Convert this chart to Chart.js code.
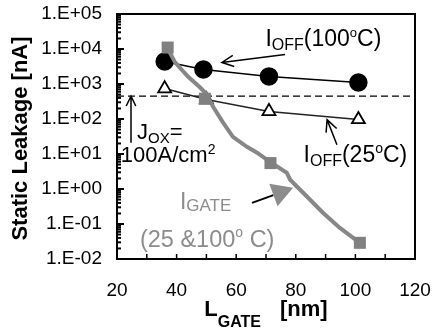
<!DOCTYPE html>
<html>
<head>
<meta charset="utf-8">
<script src="https://cdn.jsdelivr.net/npm/chart.js@4.4.1/dist/chart.umd.min.js"></script>
<style>
  html, body { margin: 0; padding: 0; background: #fff; }
</style>
</head>
<body>
<canvas id="chart" width="433" height="333"></canvas>
<script>
// gate length [nm] and static leakage [nA]
const ioff100Len = [36, 49, 71, 101];
const ioff100 = [4400, 2600, 1650, 1100];
const ioff25Len = [36, 50, 71, 101];
const ioff25 = [740, 360, 165, 97];
const igateLen = [37, 49.5, 71.5, 101.5];
const igate = [11000, 380, 5.5, 0.029];
// measured gate current curve (25 & 100 C)
const igateCurveLen = [36.8, 39.5, 43.8, 47.9, 50.2, 52.2, 55.6, 58.9, 63.6, 67.0, 71.3, 77.0, 78.1, 83.8, 89.1, 94.8, 101.5];
const igateCurve = [11100, 4130, 1640, 794, 500, 226, 79, 31, 16, 10.9, 6.0, 2.9, 1.84, 0.60, 0.21, 0.077, 0.029];
// Jox = 100 A/cm2 limit
const joxLen = [20, 120];
const joxLimit = [450, 450];

const xTicks = [20, 40, 60, 80, 100, 120];
const yTicks = [1e-2, 1e-1, 1e0, 1e1, 1e2, 1e3, 1e4, 1e5];

const FONT = '"Liberation Sans", Arial, sans-serif';
const GREY = '#878787';
const TEXT_GREY = '#8c8c8c';

function pts(xs, ys) {
    return xs.map((x, i) => ({ x: x, y: ys[i] }));
}

function sciLabel(v) {
    const e = Math.round(Math.log10(v));
    const s = e < 0 ? '-' : '+';
    return '1.E' + s + String(Math.abs(e)).padStart(2, '0');
}

// text with sub/superscripts: parts = [text, size, dy, bold, gapAfter]
function rich(ctx, x, y, parts, color) {
    let cx = x;
    ctx.fillStyle = color || '#000';
    ctx.textBaseline = 'alphabetic';
    ctx.textAlign = 'left';
    parts.forEach(p => {
        ctx.font = (p[3] ? 'bold ' : '') + p[1] + 'px ' + FONT;
        ctx.fillText(p[0], cx, y + (p[2] || 0));
        cx += ctx.measureText(p[0]).width + (p[4] || 0);
    });
    return cx - x;
}

function richWidth(ctx, parts) {
    let w = 0;
    parts.forEach(p => {
        ctx.font = (p[3] ? 'bold ' : '') + p[1] + 'px ' + FONT;
        w += ctx.measureText(p[0]).width + (p[4] || 0);
    });
    return w;
}

function openArrow(ctx, x1, y1, x2, y2, head) {
    const a = Math.atan2(y2 - y1, x2 - x1);
    ctx.beginPath();
    ctx.moveTo(x1, y1);
    ctx.lineTo(x2, y2);
    ctx.moveTo(x2 - head * Math.cos(a - 0.45), y2 - head * Math.sin(a - 0.45));
    ctx.lineTo(x2, y2);
    ctx.lineTo(x2 - head * Math.cos(a + 0.45), y2 - head * Math.sin(a + 0.45));
    ctx.stroke();
}

function filledArrow(ctx, x1, y1, x2, y2, len, half) {
    const a = Math.atan2(y2 - y1, x2 - x1);
    const bx = x2 - len * Math.cos(a), by = y2 - len * Math.sin(a);
    ctx.beginPath();
    ctx.moveTo(x1, y1);
    ctx.lineTo(bx, by);
    ctx.stroke();
    ctx.beginPath();
    ctx.moveTo(x2, y2);
    ctx.lineTo(bx + half * Math.sin(a), by - half * Math.cos(a));
    ctx.lineTo(bx - half * Math.sin(a), by + half * Math.cos(a));
    ctx.closePath();
    ctx.fill();
}

const framePlugin = {
    id: 'frame',
    afterDraw(chart) {
        const { ctx, chartArea: a, scales: { x, y } } = chart;
        const P = (vx, vy) => [x.getPixelForValue(vx), y.getPixelForValue(vy)];
        ctx.save();

        // frame
        ctx.strokeStyle = '#000';
        ctx.lineWidth = 2;
        ctx.strokeRect(a.left, a.top, a.right - a.left, a.bottom - a.top);

        // inward ticks on the log axis
        for (let e = -2; e <= 5; e++) {
            for (let m = 1; m < 10; m++) {
                const v = m * Math.pow(10, e);
                if (v > 1e5) break;
                const py = y.getPixelForValue(v);
                ctx.beginPath();
                ctx.moveTo(a.left, py);
                ctx.lineTo(a.left + (m === 1 ? 7 : 4), py);
                ctx.stroke();
            }
        }
        // inward ticks on the x axis
        ctx.lineWidth = 1.5;
        for (let v = 30; v < 120; v += 10) {
            const px = x.getPixelForValue(v);
            ctx.beginPath();
            ctx.moveTo(px, a.bottom);
            ctx.lineTo(px, a.bottom - 5);
            ctx.stroke();
        }

        // annotations
        ctx.lineWidth = 1.5;
        ctx.strokeStyle = '#000';
        ctx.fillStyle = '#000';

        let p = P(69.8, 11900);
        rich(ctx, p[0], p[1], [['I', 23], ['OFF', 16, 4], ['(100', 23], ['o', 13, -9], ['C)', 23]]);
        let p1 = P(76.4, 7000), p2 = P(55.2, 4130);
        openArrow(ctx, p1[0], p1[1], p2[0], p2[1], 13);

        p = P(82.6, 6.0);
        rich(ctx, p[0], p[1], [['I', 23], ['OFF', 16, 4], ['(25', 23], ['o', 14, -9], ['C)', 23]]);
        p1 = P(93.8, 18.4); p2 = P(90.5, 96);
        openArrow(ctx, p1[0], p1[1], p2[0], p2[1], 13);

        p1 = P(24.7, 21); p2 = P(24.7, joxLimit[0]);
        openArrow(ctx, p1[0], p1[1], p2[0], p2[1], 11);
        p = P(26.7, 27.4);
        rich(ctx, p[0], p[1], [['J', 22], ['OX', 15, 4], ['=', 22]]);
        p = P(21.3, 6.0);
        rich(ctx, p[0], p[1], [['100A/cm', 22], ['2', 14, -8]]);

        p = P(41.1, 0.26);
        rich(ctx, p[0], p[1], [['I', 23], ['GATE', 17, 2]], TEXT_GREY);
        p = P(27.7, 0.0221);
        rich(ctx, p[0], p[1], [['(25 &100', 23.5], ['o', 14, -10], [' C)', 23.5]], TEXT_GREY);
        p1 = P(65.3, 0.40); p2 = P(79.1, 1.08);
        ctx.lineWidth = 2;
        filledArrow(ctx, p1[0], p1[1], p2[0], p2[1], 21, 12);

        // axis titles
        const xt = [['L', 22, 0, true], ['GATE', 16, 11, true, 19], ['[nm]', 22, 0, true]];
        const w = richWidth(ctx, xt);
        rich(ctx, (a.left + a.right) / 2 - w / 2, 316, xt);

        ctx.translate(21, (a.top + a.bottom) / 2 + 2);
        ctx.rotate(-Math.PI / 2);
        ctx.font = 'bold 22px ' + FONT;
        ctx.textAlign = 'center';
        ctx.textBaseline = 'middle';
        ctx.fillText('Static Leakage [nA]', 0, 0);
        ctx.restore();
    }
};

new Chart(document.getElementById('chart'), {
    type: 'scatter',
    data: {
        datasets: [{
            label: 'IGATE points',
            data: pts(igateLen, igate),
            showLine: false,
            pointStyle: 'rect',
            pointRadius: 8.5,
            pointBackgroundColor: '#808080',
            pointBorderColor: '#808080',
            pointBorderWidth: 0
        }, {
            label: 'IGATE',
            data: pts(igateCurveLen, igateCurve),
            showLine: true,
            borderColor: GREY,
            borderWidth: 4,
            pointRadius: 0
        }, {
            label: 'IOFF(100C)',
            data: pts(ioff100Len, ioff100),
            showLine: true,
            borderColor: '#000',
            borderWidth: 1.5,
            pointRadius: 8.5,
            pointBackgroundColor: '#000',
            pointBorderColor: '#000'
        }, {
            label: 'IOFF(25C)',
            data: pts(ioff25Len, ioff25),
            showLine: true,
            borderColor: '#222',
            borderWidth: 1.5,
            pointStyle: 'triangle',
            pointRadius: 7.5,
            pointBackgroundColor: '#fff',
            pointBorderColor: '#000',
            pointBorderWidth: 1.8
        }, {
            label: 'Jox',
            data: pts(joxLen, joxLimit),
            showLine: true,
            borderColor: '#000',
            borderWidth: 1.3,
            borderDash: [7, 4],
            pointRadius: 0
        }]
    },
    options: {
        responsive: false,
        animation: false,
        devicePixelRatio: 1,
        layout: { padding: { top: 14, right: 18, left: 0, bottom: 0 } },
        plugins: { legend: { display: false }, tooltip: { enabled: false } },
        scales: {
            x: {
                type: 'linear',
                min: 20,
                max: 120,
                afterBuildTicks: s => { s.ticks = xTicks.map(v => ({ value: v })); },
                afterFit: s => { s.height = 74; s.paddingLeft = 0; s.paddingRight = 0; },
                grid: { display: false, drawTicks: false },
                border: { display: false },
                ticks: { color: '#000', font: { family: FONT, size: 19 }, padding: 20, maxRotation: 0 }
            },
            y: {
                type: 'logarithmic',
                min: 1e-2,
                max: 1e5,
                afterBuildTicks: s => { s.ticks = yTicks.map(v => ({ value: v })); },
                afterFit: s => { s.width = 117; s.paddingTop = 0; s.paddingBottom = 0; },
                grid: { display: false, drawTicks: false },
                border: { display: false },
                ticks: { color: '#000', font: { family: FONT, size: 19 }, padding: 15, callback: v => sciLabel(v) }
            }
        }
    },
    plugins: [framePlugin]
});
</script>
</body>
</html>
